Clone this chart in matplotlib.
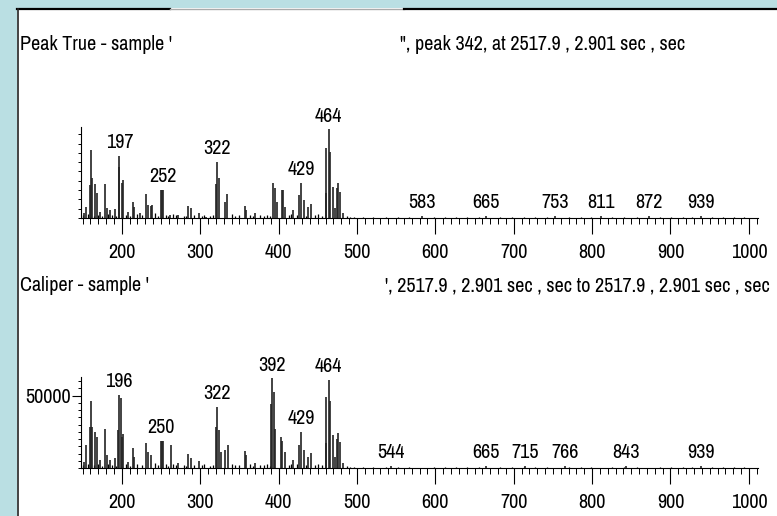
import matplotlib
matplotlib.use('Agg')
import matplotlib.pyplot as plt
from matplotlib import font_manager
from matplotlib.patches import Rectangle
from matplotlib.lines import Line2D
from matplotlib.ticker import MultipleLocator, FixedLocator

# fuente estrecha si existe
nombres = {f.name for f in font_manager.fontManager.ttflist}
condensadas = sorted(n for n in nombres if 'Narrow' in n or 'Condensed' in n)
if condensadas:
    plt.rcParams['font.family'] = [condensadas[0], 'DejaVu Sans']
else:
    plt.rcParams['font.family'] = ['DejaVu Sans']
    plt.rcParams['font.stretch'] = 'condensed'

# Espectro superior (Peak True)
top_mz = [152, 155, 160, 161, 162, 166, 168, 172, 179, 181,
          185, 191, 196, 197, 200, 202, 208, 214, 216, 223,
          231, 233, 237, 239, 250, 251, 252, 262, 272, 285,
          288, 298, 308, 320, 322, 324, 332, 334, 357, 359,
          370, 393, 395, 398, 404, 406, 408, 419, 426, 429,
          432, 438, 441, 460, 461, 464, 466, 469, 472, 474,
          476, 478, 482, 583, 665, 753, 811, 872, 939]
top_int = [5000, 12200, 35500, 73100, 42600, 36200, 26500, 6800, 36200, 10400,
           8600, 9300, 55200, 66700, 37300, 40800, 6800, 17600, 12200, 5000,
           25800, 14000, 12900, 14000, 30100, 30100, 30100, 3200, 3200, 13300,
           10400, 5000, 1400, 36200, 60600, 42600, 17600, 25800, 13300, 8600,
           5000, 38000, 31900, 17600, 30100, 30100, 12200, 8600, 24700, 38000,
           19400, 12200, 15000, 26500, 74900, 95300, 71300, 33700, 10400, 31900,
           38000, 28300, 5000, 2500, 2500, 2500, 2500, 2500, 2500]
top_labels = [197, 252, 322, 429, 464, 583, 665, 753, 811, 872, 939]

# Espectro inferior (Caliper)
bot_mz = [152, 155, 160, 161, 162, 166, 168, 172, 179, 181,
          185, 191, 195, 196, 199, 200, 202, 208, 214, 216,
          231, 233, 237, 250, 251, 253, 263, 272, 285, 288,
          298, 320, 322, 324, 327, 332, 335, 357, 359, 370,
          390, 392, 394, 396, 403, 405, 408, 419, 426, 429,
          432, 438, 441, 460, 461, 464, 466, 469, 472, 474,
          476, 478, 482, 544, 665, 715, 766, 843, 939]
bot_int = [4400, 15900, 28600, 46600, 28600, 25100, 21700, 5500, 26700, 9000,
           5500, 6700, 26300, 50500, 48200, 21700, 23500, 4400, 13600, 7800,
           17100, 11300, 9000, 18700, 18700, 18700, 15900, 3700, 9700, 6700,
           5000, 28100, 42400, 26300, 11300, 12400, 15900, 12000, 9000, 3700,
           44300, 62000, 52800, 26700, 21200, 18900, 11300, 5500, 15900, 25100,
           12400, 7800, 10600, 17100, 48900, 60900, 46600, 22800, 7800, 20100,
           24000, 18200, 3200, 1600, 1600, 1600, 1600, 1600, 1600]
bot_labels = [196, 250, 322, 392, 429, 464, 544, 665, 715, 766, 843, 939]

# Ruido de fondo (picos pequeños)
noise_mz = [150, 157, 164, 170, 175, 183, 188, 193, 205, 211,
            219, 226, 243, 246, 256, 259, 266, 269, 279, 282,
            292, 302, 305, 313, 316, 340, 344, 349, 364, 367,
            376, 381, 385, 389, 413, 416, 423, 435, 446, 450,
            455, 487, 491, 496, 508, 521, 537, 552, 566, 598,
            612, 627, 641, 656, 683, 698, 713, 727, 742, 771,
            786, 799, 826, 841, 857, 886, 901, 916, 928, 953,
            967, 981, 994]
top_noise = [3000, 4500, 2500, 3500, 2000, 4000, 3000, 2500, 3500, 2000,
             4000, 3000, 5000, 2500, 3500, 2000, 4500, 3000, 2500, 2000,
             3000, 2500, 3500, 2000, 3000, 4000, 2500, 3000, 3500, 2000,
             3000, 2500, 3500, 2000, 3000, 4500, 3500, 2500, 3000, 4000,
             2500, 2000, 1500, 1200, 1200, 900, 1400, 1000, 800, 1300,
             900, 1100, 1500, 900, 1200, 800, 1000, 1400, 900, 1200,
             1000, 1300, 900, 1100, 1400, 800, 1200, 1000, 900, 1300,
             1100, 800, 1000]
bot_noise = [2000, 3000, 1800, 2500, 1500, 2800, 2000, 1700, 2500, 1500,
             2800, 2000, 3500, 1800, 2500, 1400, 3000, 2000, 1800, 1400,
             2000, 1800, 2500, 1400, 2000, 2800, 1800, 2000, 2500, 1400,
             2000, 1800, 2500, 1400, 2000, 3000, 2500, 1800, 2000, 2800,
             1800, 1400, 1000, 800, 800, 600, 900, 700, 500, 900,
             600, 700, 1000, 600, 800, 500, 700, 900, 600, 800,
             700, 900, 600, 700, 900, 500, 800, 700, 600, 900,
             700, 500, 700]

FS = 14.5
W, H = 777, 516
fig = plt.figure(figsize=(W / 100, H / 100), dpi=100, facecolor='#badfe3')

# marco blanco tipo ventana
fig.add_artist(Rectangle((17 / W, 0), 1 - 17 / W, 1 - 8 / H, transform=fig.transFigure,
                         facecolor='white', edgecolor='none', zorder=0))
fy = 1 - 8.5 / H
fig.add_artist(Line2D([17 / W, 170 / W], [fy, fy], transform=fig.transFigure, color='black', lw=1.6))
fig.add_artist(Line2D([170 / W, 404 / W], [fy, fy], transform=fig.transFigure, color='#aaaaaa', lw=1.0))
fig.add_artist(Line2D([404 / W, 1], [fy, fy], transform=fig.transFigure, color='black', lw=1.6))
fig.add_artist(Line2D([17.5 / W, 17.5 / W], [0, fy], transform=fig.transFigure, color='#222222', lw=1.2))

left = 81 / W
width = 676.5 / W
ax1 = fig.add_axes([left, 1 - 218 / H, width, 91 / H])
ax2 = fig.add_axes([left, 1 - 468 / H, width, 91.3 / H])


def draw_spectrum(ax, mz, inten, noise, labels, ymax):
    ax.vlines(noise_mz, 0, noise, color='black', lw=0.9)
    ax.vlines(mz, 0, inten, color='#222222', lw=1.2)
    lookup = dict(zip(mz, inten))
    for m in labels:
        ax.annotate(str(m), xy=(m, lookup[m]), xytext=(0, 5.5), textcoords='offset points',
                    ha='center', va='baseline', fontsize=FS, annotation_clip=False)
    ax.set_xlim(148, 1011)
    ax.set_ylim(0, ymax)
    ax.set_facecolor('none')
    for s in ['top', 'right']:
        ax.spines[s].set_visible(False)
    for s in ['left', 'bottom']:
        ax.spines[s].set_linewidth(0.8)
    ax.xaxis.set_major_locator(MultipleLocator(100))
    ax.xaxis.set_minor_locator(MultipleLocator(10))
    ax.tick_params(axis='x', which='major', length=11.5, width=0.8, pad=6.5, labelsize=FS)
    ax.tick_params(axis='x', which='minor', length=4.3, width=0.7)
    ax.tick_params(axis='y', which='major', length=6.5, width=0.8, pad=0.5, labelsize=FS)
    ax.tick_params(axis='y', which='minor', length=2.2, width=0.7)


draw_spectrum(ax1, top_mz, top_int, top_noise, top_labels, 97800)
ax1.yaxis.set_major_locator(FixedLocator([]))
ax1.yaxis.set_minor_locator(MultipleLocator(10000))

draw_spectrum(ax2, bot_mz, bot_int, bot_noise, bot_labels, 63100)
ax2.yaxis.set_major_locator(FixedLocator([50000]))
ax2.yaxis.set_minor_locator(MultipleLocator(5000))
ax2.set_yticklabels(['50000'])

# Títulos de cada panel
fig.text(20 / W, 1 - 50 / H, "Peak True - sample '", fontsize=FS, va='baseline', ha='left')
fig.text(400 / W, 1 - 50 / H, '", peak 342, at 2517.9 , 2.901 sec , sec', fontsize=FS,
         va='baseline', ha='left')
fig.text(20 / W, 1 - 291 / H, "Caliper - sample '", fontsize=FS, va='baseline', ha='left')
fig.text(770 / W, 1 - 291 / H, "', 2517.9 , 2.901 sec , sec to 2517.9 , 2.901 sec , sec",
         fontsize=FS, va='baseline', ha='right')

fig.savefig('out.png', dpi=100, facecolor=fig.get_facecolor())
